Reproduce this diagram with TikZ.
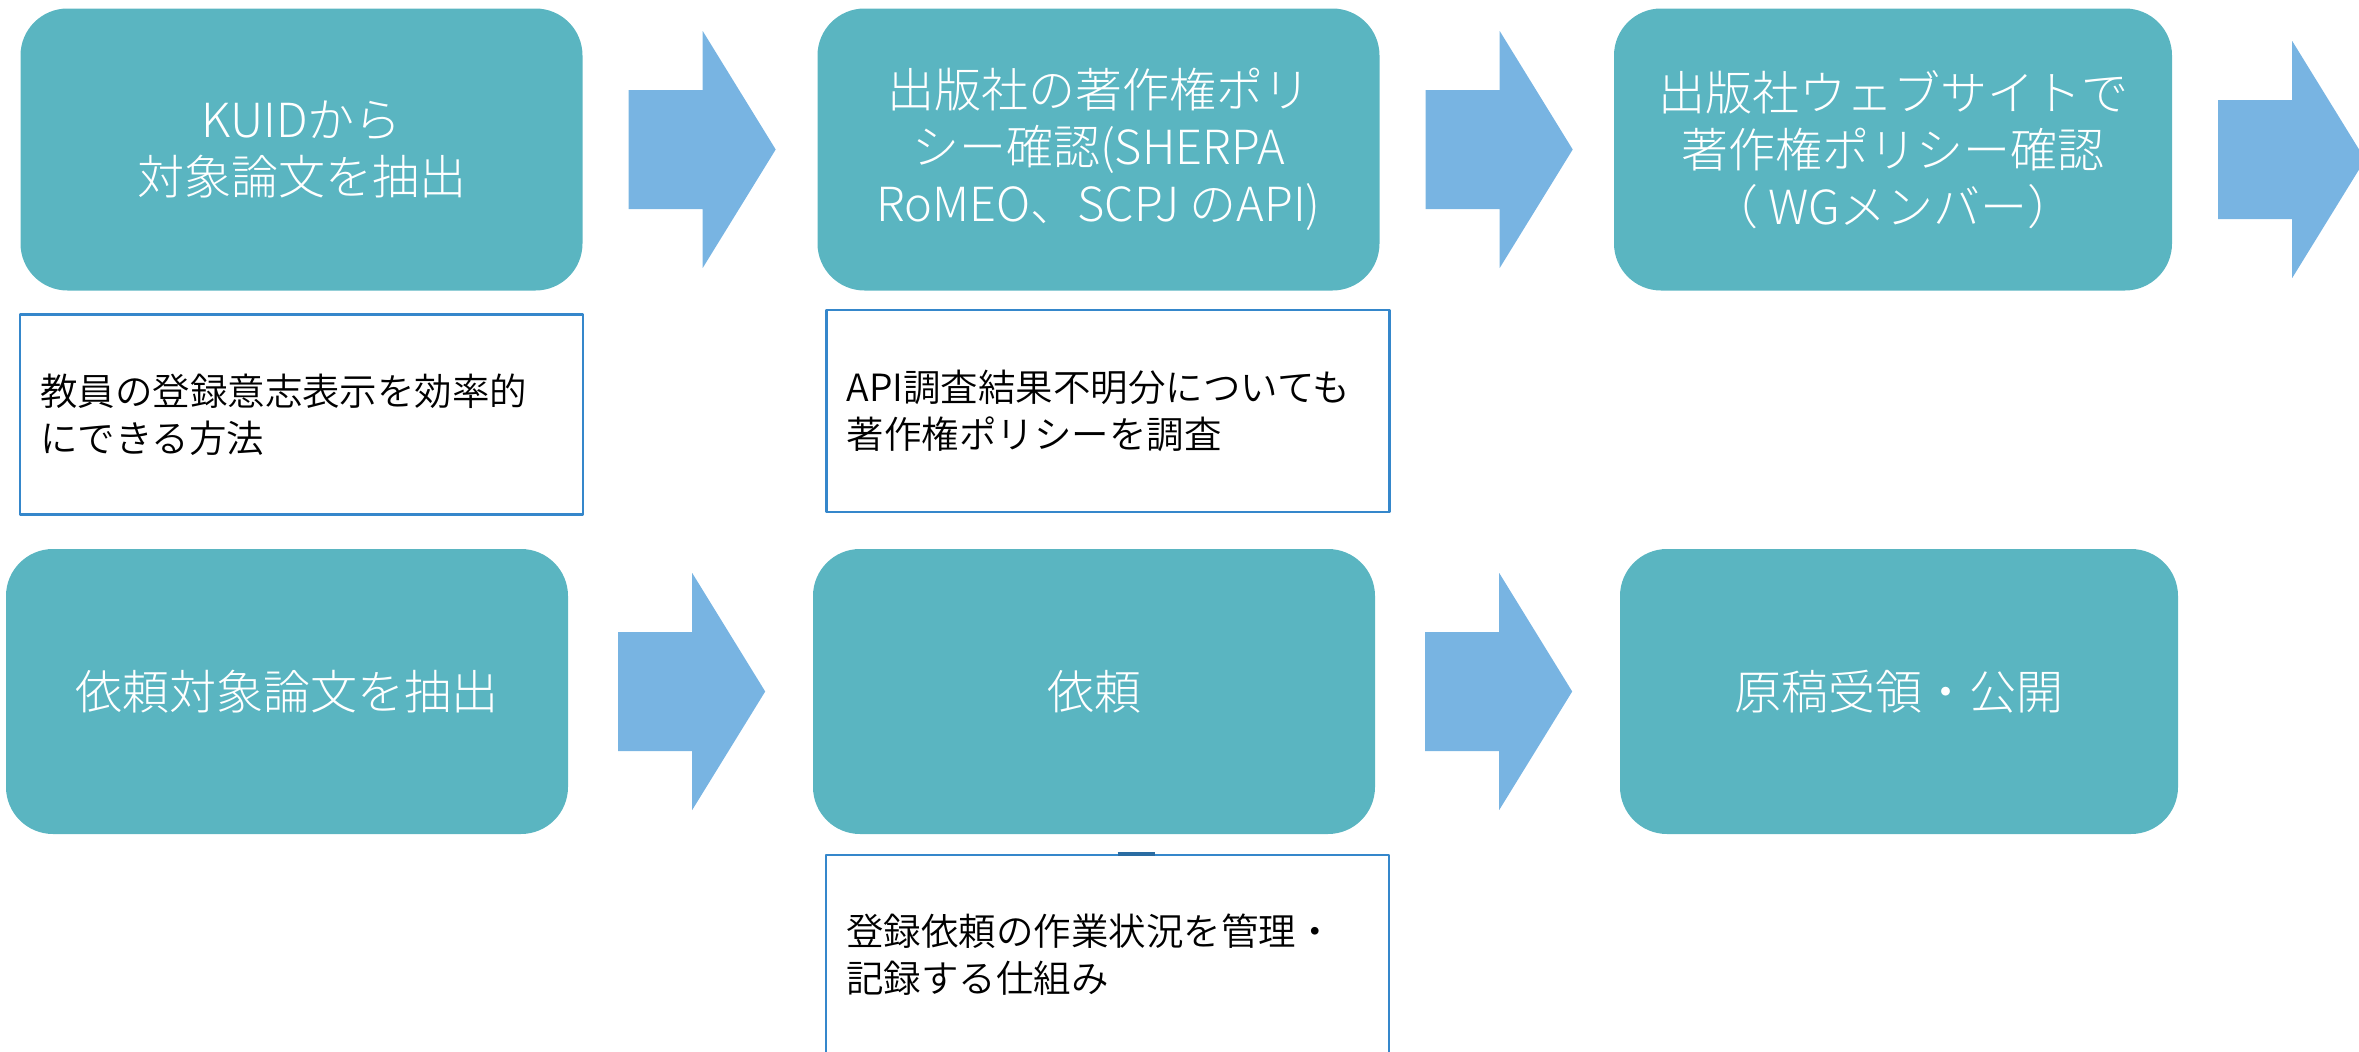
\documentclass[tikz,border=0pt]{standalone}
\usepackage{fontspec}
\setmainfont{Noto Sans CJK JP}
\newfontfamily\boxfont{Noto Sans CJK JP}[UprightFont=* Light]
\newfontfamily\memofont{Noto Sans CJK JP}[UprightFont=* DemiLight]
\definecolor{boxteal}{HTML}{5AB5C1}
\definecolor{arrowblue}{HTML}{78B4E2}
\definecolor{memoline}{HTML}{3587CB}
\begin{document}
\begin{tikzpicture}[x=1pt,y=-1pt,line join=round,
	procbox/.style={fill=boxteal,rounded corners=47pt,minimum width=562pt,minimum height=282pt,inner sep=0pt,text=white,align=center,font=\boxfont\fontsize{47}{57}\selectfont},
	memo/.style={draw=memoline,line width=2.5pt,fill=white,text width=523pt,inner xsep=20pt,inner ysep=0pt,minimum height=200pt,align=left,font=\memofont\fontsize{37.5}{47}\selectfont},
	blockarrow/.style={fill=arrowblue}]
	\path[use as bounding box,clip] (0,0) rectangle (2359,1052);
	\node[procbox] (kuid) at (301.5,149.5) {KUIDから\\対象論文を抽出};
	\node[procbox] (policy) at (1098.5,149.5) {出版社の著作権ポリ\\シー確認(SHERPA\\RoMEO、SCPJ のAPI)};
	\node[procbox,minimum width=558pt] (website) at (1893,149.5) {出版社ウェブサイトで\\著作権ポリシー確認\\（ WGメンバー）};
	\node[procbox,minimum height=285pt] (target) at (287,691.5) {依頼対象論文を抽出};
	\node[procbox,minimum height=285pt] (request) at (1094,691.5) {依頼};
	\node[procbox,minimum height=285pt,minimum width=558pt] (receive) at (1899,691.5) {原稿受領・公開};
	\node[memo] (kuid-memo) at (301.5,414.5) {教員の登録意志表示を効率的\\にできる方法};
	\node[memo,minimum height=202pt] (policy-memo) at (1108,411) {API調査結果不明分についても\\著作権ポリシーを調査};
	\node[memo] (request-memo) at (1107.5,955) {登録依頼の作業状況を管理・\\記録する仕組み};
	\draw[memoline!80!black,line width=4pt] ([xshift=10pt]request-memo.north) -- ++(37,0);
	\foreach \from/\gap/\dy in {kuid/46/0,policy/46/0,website/46/-10,target/50/0,request/50/0}
		\fill[blockarrow] ([xshift=\gap pt,yshift=\dy pt]\from.east) ++(0,-59.5) -- ++(74,0) -- ++(0,-59) -- ++(73,118.5) -- ++(-73,118.5) -- ++(0,-59) -- ++(-74,0) -- cycle;
\end{tikzpicture}
\end{document}
